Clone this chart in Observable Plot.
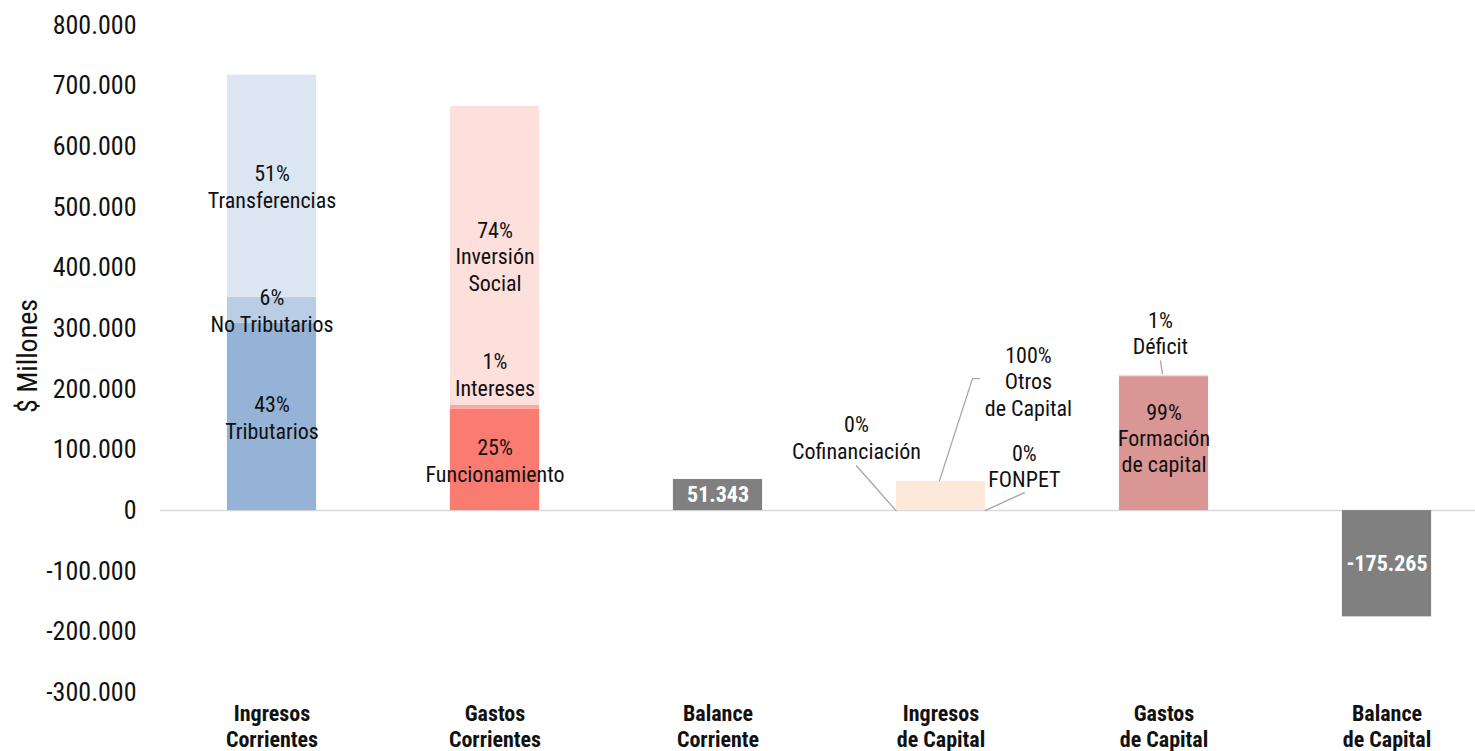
<!DOCTYPE html>
<html><head><meta charset="utf-8">
<script src="https://cdn.jsdelivr.net/npm/d3@7"></script>
<script src="https://cdn.jsdelivr.net/npm/@observablehq/plot@0.6"></script>
<style>
body{margin:0;background:#fff;}
svg{display:block;}
</style>
</head><body><div id="chart"></div>
<script>
// Categories (x axis)
const categories = ["Ingresos\nCorrientes","Gastos\nCorrientes","Balance\nCorriente","Ingresos\nde Capital","Gastos\nde Capital","Balance\nde Capital"];
// Stacked components (bottom to top within each category)
const segmentNames  = ["Tributarios","No Tributarios","Transferencias","Funcionamiento","Intereses","Inversión\nSocial","Cofinanciación","Otros\nde Capital","FONPET","Formación\nde capital","Déficit"];
const segmentGroup  = [0,0,0,1,1,1,3,3,3,4,4];
const segmentValues = [309000,43000,366000,167000,7000,492700,0,47900,0,220930,2235];
const segmentPct    = ["43%","6%","51%","25%","1%","74%","0%","100%","0%","99%","1%"];
// Balances
const balanceGroup  = [2,5];
const balanceValues = [51343,-175265];
const balanceLabels = ["51.343","-175.265"];
// Y ticks
const yTicks = [-300000,-200000,-100000,0,100000,200000,300000,400000,500000,600000,700000,800000];

const palette = ["#95B3D7","#B9CDE5","#DCE6F2","#FA7B70","#F9A8A2","#FDDFDC","#FDE9D9","#FDE9D9","#FDE9D9","#D99694","#F2DCDB"];

// derived stacks
const cum = {};
const segs = segmentNames.map((name,i)=>{
  const g = segmentGroup[i];
  const y1 = cum[g] || 0, y2 = y1 + segmentValues[i];
  cum[g] = y2;
  return {name, g, y1, y2, pct: segmentPct[i], label: segmentPct[i] + "\n" + name};
});
const bals = balanceGroup.map((g,i)=>({g, v: balanceValues[i], label: balanceLabels[i]}));

const inside = segs.filter(d => [0,1,2,3,5].includes(segmentNames.indexOf(d.name)));
const intereses = segs.filter(d => d.name === "Intereses");
const formacion = segs.filter(d => d.name === "Formación\nde capital");

// Callout annotations (data coordinates)
const callouts = [
  {label: segs[6].label, x: 2.621, y: 121000},
  {label: segs[7].label, x: 3.392, y: 214000},
  {label: segs[8].label, x: 3.374, y: 74000},
  {label: segs[10].label, x: 3.984, y: 293600}
];
const leaders = [
  {id:"cof", x:2.621, y:74000}, {id:"cof", x:2.798, y:0},
  {id:"otr", x:2.993, y:49000}, {id:"otr", x:3.141, y:217700}, {id:"otr", x:3.173, y:217700},
  {id:"fon", x:3.374, y:29700}, {id:"fon", x:3.198, y:0},
  {id:"def", x:3.984, y:247000}, {id:"def", x:3.993, y:226000}
];

const loc = d3.formatLocale({decimal:",", thousands:".", grouping:[3], currency:["$",""], minus:"-"});
const fmt = loc.format(",");

const FONT = "'Liberation Sans Narrow','Arial Narrow','Roboto Condensed',sans-serif";

const chart = Plot.plot({
  width: 1475, height: 751,
  marginLeft: 160, marginRight: 0, marginTop: 25, marginBottom: 59,
  x: {type: "linear", domain: [-0.5, 5.5], range: [160, 1498], axis: null},
  y: {domain: [-300000, 800000], axis: null},
  color: {domain: segmentNames, range: palette},
  style: {fontFamily: FONT, background: "#fff", color: "#000", overflow: "visible"},
  marks: [
    Plot.ruleY([0], {stroke: "#d9d9d9", strokeWidth: 1.5}),
    Plot.rectY(segs, {x1: d => d.g - 0.2, x2: d => d.g + 0.2, y1: "y1", y2: "y2", fill: "name"}),
    Plot.rectY(bals, {x1: d => d.g - 0.2, x2: d => d.g + 0.2, y1: 0, y2: "v", fill: "#808080"}),
    Plot.text(inside, {x: "g", y: d => (d.y1 + d.y2) / 2, text: "label", fontSize: 22, lineHeight: 1.2, fill: "#111"}),
    Plot.text(intereses, {x: "g", y: d => (d.y1 + d.y2) / 2, text: "label", fontSize: 22, lineHeight: 1.2, dy: -33, fill: "#111"}),
    Plot.text(formacion, {x: "g", y: d => (d.y1 + d.y2) / 2, text: "label", fontSize: 22, lineHeight: 1.2, dy: -6, fill: "#111"}),
    Plot.line(leaders, {x: "x", y: "y", z: "id", stroke: "#a6a6a6", strokeWidth: 1.3}),
    Plot.text(callouts, {x: "x", y: "y", text: "label", fontSize: 22, lineHeight: 1.2, fill: "#111"}),
    Plot.text(bals, {x: "g", y: d => d.v / 2, text: "label", fontSize: 22, fontWeight: "bold", fill: "#fff"}),
    Plot.text(yTicks, {x: -0.5, y: d => d, text: d => fmt(d), textAnchor: "end", dx: -24, fontSize: 26, fill: "#111"}),
    Plot.text(["$ Millones"], {x: -0.5, y: 255000, rotate: -90, dx: -132, fontSize: 28, fill: "#111"}),
    Plot.text(categories, {x: (d, i) => i, frameAnchor: "bottom", lineAnchor: "top", dy: 9, text: d => d, fontSize: 22, fontWeight: "bold", lineHeight: 1.22, fill: "#111"})
  ]
});
document.getElementById("chart").append(chart);
</script>
</body></html>
